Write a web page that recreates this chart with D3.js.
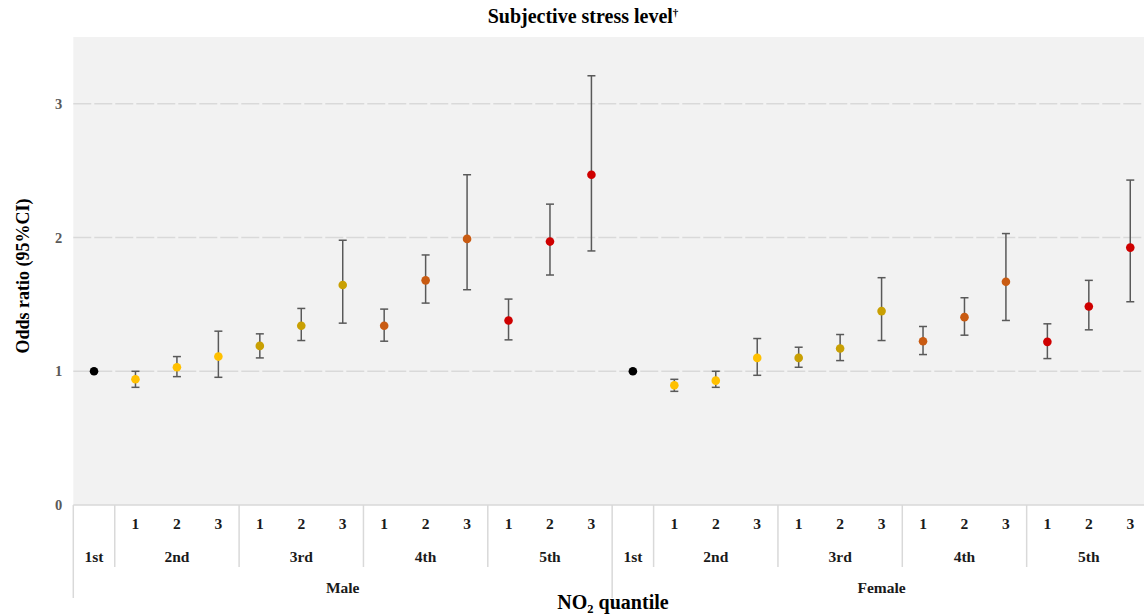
<!DOCTYPE html>
<html><head><meta charset="utf-8">
<script src="https://cdn.jsdelivr.net/npm/d3@7"></script>
<style>body{margin:0;background:#fff;} svg{display:block;} text{font-family:"Liberation Serif","Times New Roman",serif;font-weight:bold;}</style>
</head><body>
<svg id="c" width="1144" height="615"></svg>
<script>
const sexes = ["Male", "Female"];
const quantiles = ["1st", "2nd", "3rd", "4th", "5th"];
const subLevels = ["1", "2", "3"];
const yTicks = [0, 1, 2, 3];
const quantileColors = ["#000000", "#ffc000", "#c9a003", "#c95b12", "#cf0000"];
// Male: 1st (reference), then 2nd-1..3, 3rd-1..3, 4th-1..3, 5th-1..3
const maleOR  = [1.00, 0.94, 1.03, 1.11, 1.19, 1.34, 1.645, 1.34, 1.68, 1.99, 1.38, 1.97, 2.47];
const maleLo  = [null, 0.88, 0.96, 0.955, 1.10, 1.23, 1.36, 1.225, 1.51, 1.61, 1.235, 1.72, 1.90];
const maleHi  = [null, 1.00, 1.11, 1.30, 1.28, 1.47, 1.98, 1.465, 1.87, 2.47, 1.54, 2.25, 3.21];
const femaleOR = [1.00, 0.895, 0.93, 1.10, 1.10, 1.17, 1.45, 1.225, 1.405, 1.67, 1.22, 1.485, 1.925];
const femaleLo = [null, 0.85, 0.88, 0.97, 1.03, 1.08, 1.23, 1.125, 1.27, 1.38, 1.095, 1.31, 1.52];
const femaleHi = [null, 0.94, 1.00, 1.245, 1.18, 1.275, 1.70, 1.335, 1.55, 2.03, 1.355, 1.68, 2.43];

(function () {
const rows = [];
sexes.forEach((s, si) => {
  const or = si === 0 ? maleOR : femaleOR;
  const lo = si === 0 ? maleLo : femaleLo;
  const hi = si === 0 ? maleHi : femaleHi;
  let k = 0;
  quantiles.forEach((q, qi) => {
    const subs = qi === 0 ? [""] : subLevels;
    subs.forEach(sub => {
      rows.push({key: s + "|" + q + "|" + sub, sex: s, q: q, qi: qi, sub: sub, or: or[k], lo: lo[k], hi: hi[k]});
      k++;
    });
  });
});

const svg = d3.select("#c");
const pLeft = 73.3, pRight = 1151, pTop = 37, pBottom = 505;
const x = d3.scaleBand().domain(rows.map(d => d.key)).range([pLeft, pRight]).padding(0);
const y = d3.scaleLinear().domain([0, 3.5]).range([pBottom, pTop]);
const bw = x.bandwidth();

svg.append("rect").attr("x", pLeft).attr("y", pTop).attr("width", pRight - pLeft).attr("height", pBottom - pTop).attr("fill", "#f2f2f2");

svg.append("g").selectAll("line").data(yTicks.filter(t => t > 0)).join("line")
  .attr("x1", pLeft).attr("x2", pRight).attr("y1", d => y(d)).attr("y2", d => y(d))
  .attr("stroke", "#d9d9d9").attr("stroke-width", 1.5).attr("stroke-dasharray", "18,3");

const yAxis = d3.axisLeft(y).tickValues(yTicks).tickSize(0).tickPadding(0).tickFormat(d3.format("d"));
const gy = svg.append("g").attr("transform", `translate(${pLeft - 11},0)`).call(yAxis);
gy.select(".domain").remove();
gy.selectAll("text").attr("font-size", 14.5).attr("fill", "#595959").style("font-family", "'Liberation Serif',serif").style("font-weight", "bold");

const axG = svg.append("g");
axG.append("line").attr("x1", pLeft).attr("x2", pRight).attr("y1", pBottom).attr("y2", pBottom).attr("stroke", "#d9d9d9").attr("stroke-width", 1.5);
sexes.forEach(s => {
  const first = rows.find(r => r.sex === s);
  axG.append("line").attr("x1", x(first.key)).attr("x2", x(first.key)).attr("y1", pBottom).attr("y2", 598).attr("stroke", "#d9d9d9").attr("stroke-width", 1.5);
});
rows.filter(r => r.qi > 0 && r.sub === "1").forEach(r => {
  axG.append("line").attr("x1", x(r.key)).attr("x2", x(r.key)).attr("y1", pBottom).attr("y2", 567).attr("stroke", "#d9d9d9").attr("stroke-width", 1.5);
});
axG.selectAll("text.sub").data(rows.filter(r => r.sub !== "")).join("text").attr("class", "sub")
  .attr("x", d => x(d.key) + bw / 2).attr("y", 529).attr("text-anchor", "middle").attr("font-size", 15.5).attr("fill", "#1a1a1a").text(d => d.sub);
const groups = [];
sexes.forEach(s => quantiles.forEach(q => {
  const rs = rows.filter(r => r.sex === s && r.q === q);
  groups.push({sex: s, q: q, x0: x(rs[0].key), x1: x(rs[rs.length - 1].key) + bw});
}));
axG.selectAll("text.q").data(groups).join("text").attr("class", "q")
  .attr("x", d => (d.x0 + d.x1) / 2).attr("y", 562).attr("text-anchor", "middle").attr("font-size", 15.5).attr("fill", "#1a1a1a").text(d => d.q);
sexes.forEach(s => {
  const rs = rows.filter(r => r.sex === s);
  const cx = (x(rs[0].key) + x(rs[rs.length - 1].key) + bw) / 2;
  axG.append("text").attr("x", cx).attr("y", 593).attr("text-anchor", "middle").attr("font-size", 15.5).attr("fill", "#1a1a1a").text(s);
});

const eb = svg.append("g").selectAll("g").data(rows.filter(r => r.lo !== null)).join("g");
eb.append("line").attr("x1", d => x(d.key) + bw / 2).attr("x2", d => x(d.key) + bw / 2)
  .attr("y1", d => y(d.lo)).attr("y2", d => y(d.hi)).attr("stroke", "#595959").attr("stroke-width", 1.5);
eb.append("line").attr("x1", d => x(d.key) + bw / 2 - 4).attr("x2", d => x(d.key) + bw / 2 + 4)
  .attr("y1", d => y(d.lo)).attr("y2", d => y(d.lo)).attr("stroke", "#595959").attr("stroke-width", 1.5);
eb.append("line").attr("x1", d => x(d.key) + bw / 2 - 4).attr("x2", d => x(d.key) + bw / 2 + 4)
  .attr("y1", d => y(d.hi)).attr("y2", d => y(d.hi)).attr("stroke", "#595959").attr("stroke-width", 1.5);

svg.append("g").selectAll("circle").data(rows).join("circle")
  .attr("cx", d => x(d.key) + bw / 2).attr("cy", d => y(d.or)).attr("r", 4.3)
  .attr("fill", d => quantileColors[d.qi]);

svg.append("text").attr("x", 583).attr("y", 23).attr("text-anchor", "middle").attr("font-size", 20).attr("fill", "#000")
  .text("Subjective stress level").append("tspan").attr("dy", -7).attr("font-size", 11).text("†");
svg.append("text").attr("transform", "translate(29,276) rotate(-90)").attr("text-anchor", "middle").attr("font-size", 18).attr("fill", "#000").text("Odds ratio (95%CI)");
const xt = svg.append("text").attr("x", 613).attr("y", 609).attr("text-anchor", "middle").attr("font-size", 20).attr("fill", "#000");
xt.append("tspan").text("NO");
xt.append("tspan").attr("font-size", 12.5).attr("dy", 4).text("2");
xt.append("tspan").attr("dy", -4).text(" quantile");
})();
</script>
</body></html>
